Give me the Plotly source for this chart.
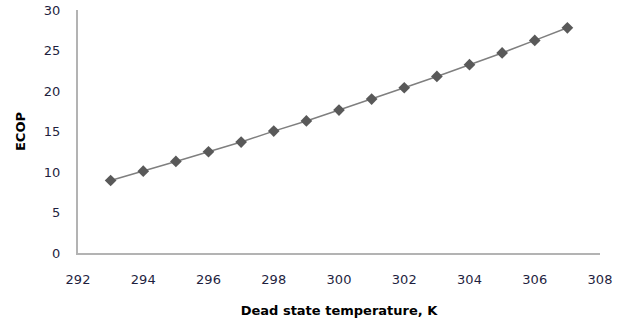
import plotly.graph_objects as go

temperature_K = [293, 294, 295, 296, 297, 298, 299, 300, 301, 302, 303, 304, 305, 306, 307]
ecop = [8.95, 10.1, 11.3, 12.5, 13.7, 15.05, 16.3, 17.65, 19.0, 20.4, 21.8, 23.25, 24.7, 26.25, 27.8]
x_ticks = [292, 294, 296, 298, 300, 302, 304, 306, 308]
y_ticks = [0, 5, 10, 15, 20, 25, 30]

fig = go.Figure()
fig.add_trace(go.Scatter(
    x=temperature_K, y=ecop, mode="lines+markers",
    line=dict(color="#7f7f7f", width=1.5),
    marker=dict(symbol="diamond", size=9, color="#595959"),
    showlegend=False, cliponaxis=False,
))

font_tick = dict(family="DejaVu Sans", size=13, color="#1f1f3f")
fig.update_layout(
    width=624, height=323,
    margin=dict(l=78, r=24, t=10, b=70),
    plot_bgcolor="white", paper_bgcolor="white",
    xaxis=dict(
        range=[292, 308], tickvals=x_ticks, showgrid=False, zeroline=False,
        showline=True, linecolor="#b3b3b3", linewidth=2, automargin=False,
        ticks="", ticklabelstandoff=13, tickfont=font_tick,
        title=dict(text="<b>Dead state temperature, K</b>",
                   font=dict(family="DejaVu Sans", size=13, color="black"), standoff=20),
    ),
    yaxis=dict(
        range=[0, 30], tickvals=y_ticks, showgrid=False, zeroline=False,
        showline=True, linecolor="#b3b3b3", linewidth=2, automargin=False,
        ticks="", ticklabelstandoff=13, tickfont=font_tick,
        title=dict(text="<b>ECOP</b>",
                   font=dict(family="DejaVu Sans", size=13, color="black"), standoff=15),
    ),
)
fig.write_html("out.html", config={"displayModeBar": False},
               post_script="document.body.style.margin='0';document.body.style.overflow='hidden';")
